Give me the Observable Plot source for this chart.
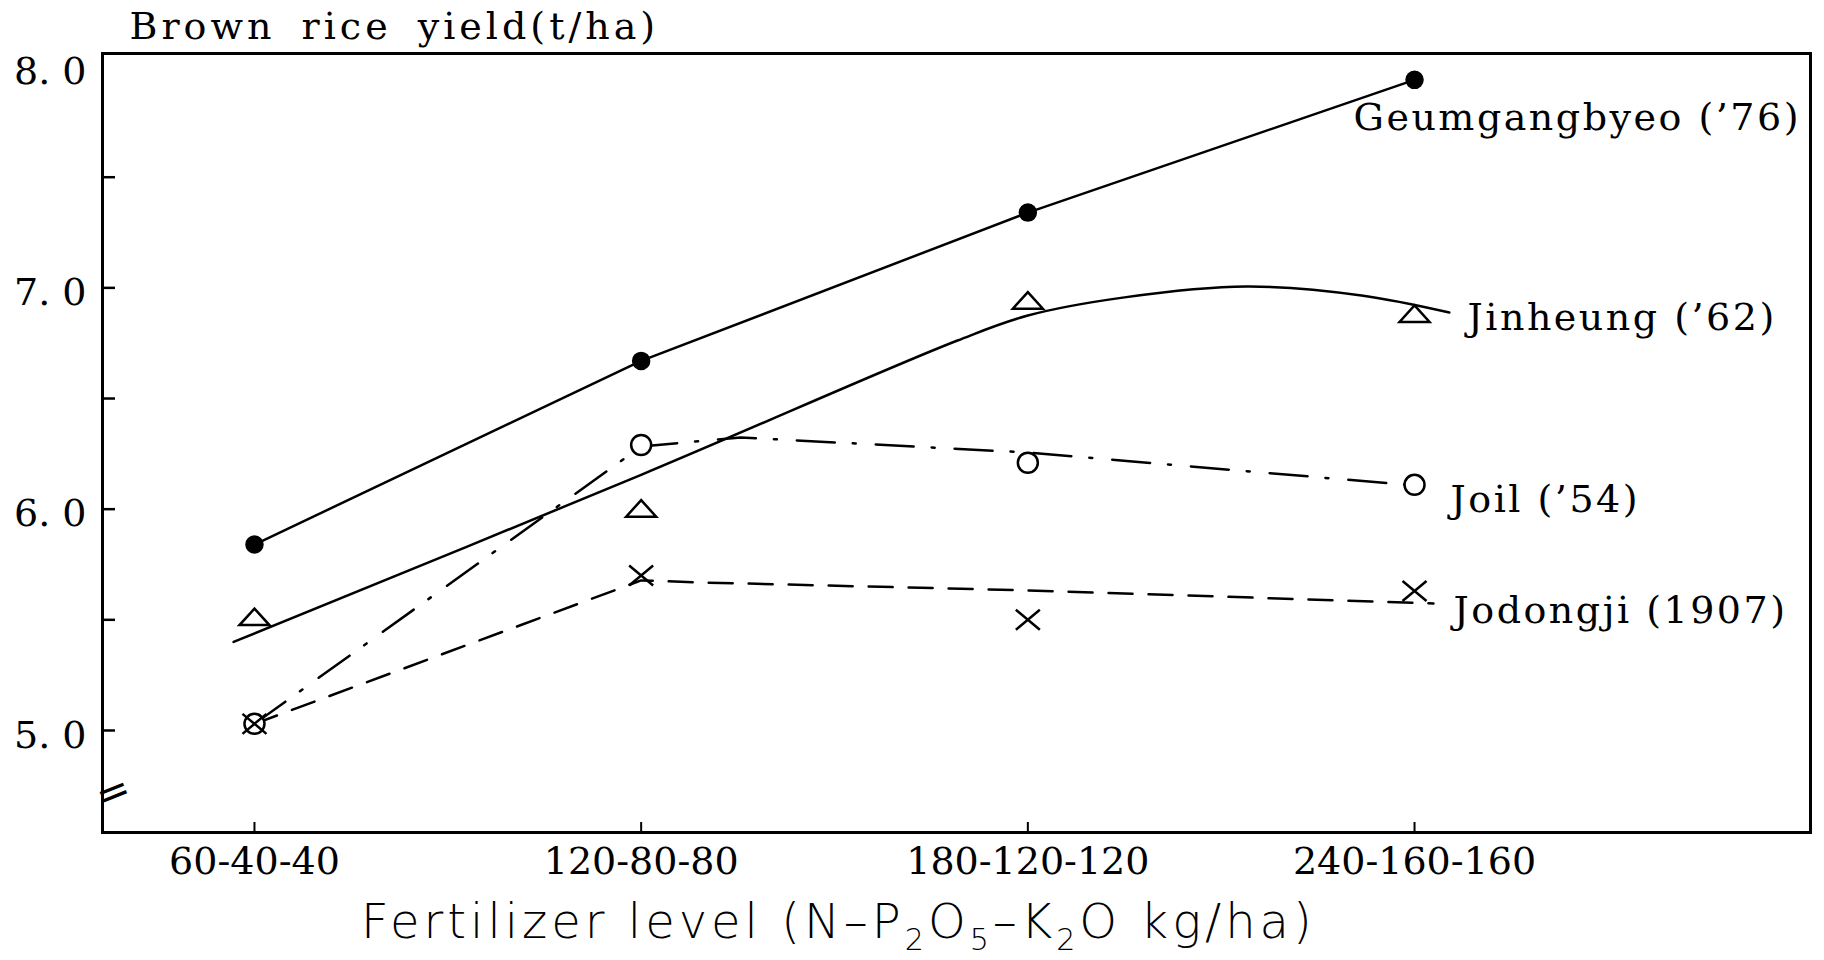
<!DOCTYPE html>
<html><head><meta charset="utf-8">
<script src="https://cdn.jsdelivr.net/npm/d3@7"></script>
<script src="https://cdn.jsdelivr.net/npm/@observablehq/plot@0.6"></script>
<style>
html,body{margin:0;padding:0;background:#fff;}
#chart{width:1824px;height:960px;overflow:hidden;background:#fff;}
</style></head><body><div id="chart"></div>
<script>
// ---- data ----
const categories = ["60-40-40", "120-80-80", "180-120-120", "240-160-160"];
const yTickValues = [5, 6, 7, 8];
const yMinorTicks = [5, 5.5, 6, 6.5, 7, 7.5];
const seriesNames = ["Geumgangbyeo (\u201976)", "Jinheung (\u201962)", "Joil (\u201954)", "Jodongji (1907)"];
const geumgangbyeo = [5.84, 6.67, 7.34, 7.94];
const jinheung = [5.51, 6.00, 6.94, 6.88];
const joil = [5.03, 6.29, 6.21, 6.11];
const jodongji = [5.03, 5.70, 5.50, 5.63];
// drawn (hand-fitted) lines
const jinheungCurveX = [-0.054, 1.0, 1.818, 2.0, 2.25, 2.565, 2.863, 3.09];
const jinheungCurveY = [5.40, 6.155, 6.762, 6.875, 6.957, 7.006, 6.966, 6.889];
const joilLineX = [0, 1, 1.257, 2, 3];
const joilLineY = [5.03, 6.283, 6.324, 6.256, 6.107];
const jodongjiLineX = [0, 1, 1.153, 2, 3.049];
const jodongjiLineY = [5.03, 5.678, 5.669, 5.633, 5.574];
const yTitle = "Brown rice yield(t/ha)";

// ---- layout ----
const W = 1824, H = 960;
const mL = 102, mR = 14, mT = 53, mB = 128;
const plotW = W - mL - mR, plotH = H - mT - mB;
const idx = categories.map((_, i) => i);
const pts = (xs, ys) => xs.map((x, i) => ({x, y: ys[i]}));
const serif = "DejaVu Serif";

const triangleSym = {draw(ctx, size) {
  const s = Math.sqrt(size / Math.PI);
  ctx.moveTo(0, -0.9 * s); ctx.lineTo(1.5 * s, 0.75 * s); ctx.lineTo(-1.5 * s, 0.75 * s); ctx.closePath();
}};
const timesSym = {draw(ctx, size) {
  const s = Math.sqrt(size / Math.PI);
  ctx.moveTo(-1.2 * s, -s); ctx.lineTo(1.2 * s, s);
  ctx.moveTo(-1.2 * s, s); ctx.lineTo(1.2 * s, -s);
}};

const seriesLabel = (i, vals, dx, dy, name) => Plot.text([i], {
  x: d => d, y: d => vals[d], text: () => name, dx, dy,
  textAnchor: "start", lineAnchor: "middle", fontSize: 38, fontFamily: serif, fill: "black"
});

const svg = Plot.plot({
  width: W, height: H,
  marginLeft: mL, marginRight: mR, marginTop: mT, marginBottom: mB,
  style: {fontFamily: serif, background: "white", color: "black"},
  x: {type: "linear", domain: [-0.393, 4.024]},
  y: {domain: [4.539, 8.059]},
  marks: [
    Plot.frame({strokeWidth: 3, stroke: "black"}),
    Plot.tickY(yMinorTicks, {y: d => d, insetRight: plotW - 13, strokeWidth: 2.5, stroke: "black"}),
    Plot.tickX(idx, {x: d => d, insetTop: plotH - 10, strokeWidth: 2, stroke: "black"}),
    Plot.axisX({ticks: idx, tickFormat: i => categories[i], tickSize: 0, tickPadding: 15,
      fontSize: 38, fontFamily: serif, label: null, fill: "black"}),
    Plot.axisY({ticks: yTickValues, tickFormat: d => d.toFixed(1).replace(".", ". "), tickSize: 0,
      tickPadding: 16, dy: 5, fontSize: 38, fontFamily: serif, label: null, fill: "black"}),
    // lines
    Plot.line(idx, {x: d => d, y: i => geumgangbyeo[i], stroke: "black", strokeWidth: 2.5}),
    Plot.line(pts(jinheungCurveX, jinheungCurveY), {x: "x", y: "y", curve: "catmull-rom", stroke: "black", strokeWidth: 2.5}),
    Plot.line(pts(joilLineX, joilLineY), {x: "x", y: "y", stroke: "black", strokeWidth: 2.5, strokeDasharray: "38,18,3,20"}),
    Plot.line(pts(jodongjiLineX, jodongjiLineY), {x: "x", y: "y", stroke: "black", strokeWidth: 2.5, strokeDasharray: "24,16"}),
    // markers
    Plot.dot(idx, {x: d => d, y: i => geumgangbyeo[i], r: 8.5, fill: "black", stroke: "black"}),
    Plot.dot(idx, {x: d => d, y: i => jinheung[i], symbol: triangleSym, r: 10, fill: "none", stroke: "black", strokeWidth: 2.5}),
    Plot.dot(idx, {x: d => d, y: i => joil[i], r: 10, fill: "white", stroke: "black", strokeWidth: 2.5}),
    Plot.dot(idx, {x: d => d, y: i => jodongji[i], symbol: timesSym, r: 10, fill: "none", stroke: "black", strokeWidth: 2.5}),
    // series labels
    seriesLabel(3, geumgangbyeo, -61, 38, seriesNames[0]),
    seriesLabel(3, jinheung, 53, 3, seriesNames[1]),
    seriesLabel(3, joil, 36, 15, seriesNames[2]),
    seriesLabel(3, jodongji, 39, 20, seriesNames[3]),
    // y title
    Plot.text([yTitle], {frameAnchor: "top-left", dx: 27, dy: -27, textAnchor: "start", lineAnchor: "middle",
      fontSize: 38, fontFamily: serif, fill: "black"}),
    // axis break mark
    Plot.text(["="], {frameAnchor: "bottom-left", dy: -22, rotate: -22, fontSize: 40, fontFamily: "DejaVu Sans",
      fill: "black"})
  ]
});

const s = d3.select(svg);
s.selectAll("text").filter(function() { return seriesNames.includes(this.textContent); })
  .style("letter-spacing", "2.5px");
s.selectAll("text").filter(function() { return this.textContent === yTitle; })
  .style("letter-spacing", "4px").style("word-spacing", "10px");

// x-axis title with subscripts
const xl = s.append("text").attr("x", 361).attr("y", 938).attr("text-anchor", "start")
  .attr("font-family", "DejaVu Sans").attr("font-weight", 200).attr("font-size", 48)
  .attr("letter-spacing", 4).attr("fill", "black");
const parts = [["Fertilizer level (N\u2013P", 0], ["2", 1], ["O", 0], ["5", 1], ["\u2013K", 0], ["2", 1], ["O kg/ha)", 0]];
let shifted = false;
parts.forEach(([t, sub]) => {
  const ts = xl.append("tspan").text(t).attr("font-size", sub ? 30 : 48);
  if (sub && !shifted) { ts.attr("dy", 12); shifted = true; }
  else if (!sub && shifted) { ts.attr("dy", -12); shifted = false; }
});

document.getElementById("chart").appendChild(svg);
</script>
</body></html>
